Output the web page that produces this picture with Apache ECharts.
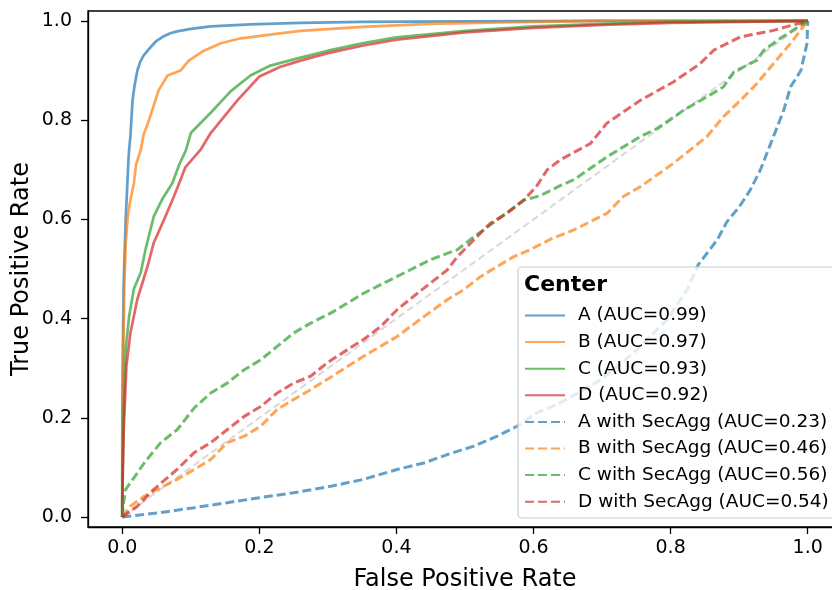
<!DOCTYPE html>
<html>
<head>
<meta charset="utf-8">
<script src="https://cdn.jsdelivr.net/npm/echarts@6/dist/echarts.min.js"></script>
<style>html,body{margin:0;padding:0;background:#fff}#chart{width:832px;height:590px}</style>
</head>
<body>
<div id="chart"></div>
<script>
// Tick values
const xTicks = [0, 0.2, 0.4, 0.6, 0.8, 1.0];
const yTicks = [0, 0.2, 0.4, 0.6, 0.8, 1.0];

// Legend labels
const seriesNames = [
  'A (AUC=0.99)', 'B (AUC=0.97)', 'C (AUC=0.93)', 'D (AUC=0.92)',
  'A with SecAgg (AUC=0.23)', 'B with SecAgg (AUC=0.46)',
  'C with SecAgg (AUC=0.56)', 'D with SecAgg (AUC=0.54)'
];

// ROC curves as [FPR, TPR]
const rocA = [[0,0],[0,0.2],[0.001,0.35],[0.002,0.47],[0.005,0.6],[0.007,0.66],[0.009,0.72],[0.01,0.74],[0.012,0.77],[0.015,0.84],[0.018,0.87],[0.022,0.9],[0.026,0.917],[0.031,0.93],[0.04,0.945],[0.05,0.96],[0.059,0.968],[0.07,0.975],[0.08,0.979],[0.1,0.984],[0.129,0.989],[0.187,0.993],[0.26,0.996],[0.35,0.998],[0.5,0.999],[0.7,1],[1,1]];
const rocB = [[0,0],[0,0.15],[0.001,0.3],[0.003,0.47],[0.005,0.55],[0.008,0.606],[0.012,0.64],[0.017,0.673],[0.02,0.71],[0.027,0.74],[0.031,0.77],[0.039,0.8],[0.046,0.83],[0.053,0.86],[0.066,0.89],[0.085,0.9],[0.097,0.92],[0.119,0.94],[0.144,0.955],[0.173,0.965],[0.23,0.975],[0.26,0.98],[0.35,0.988],[0.45,0.994],[0.55,0.997],[0.7,1],[1,1]];
const rocC = [[0,0],[0,0.04],[0.002,0.2],[0.005,0.338],[0.01,0.405],[0.017,0.46],[0.027,0.493],[0.034,0.54],[0.046,0.606],[0.058,0.64],[0.073,0.673],[0.083,0.71],[0.093,0.74],[0.1,0.774],[0.129,0.815],[0.158,0.858],[0.187,0.89],[0.216,0.91],[0.26,0.926],[0.3,0.94],[0.35,0.955],[0.4,0.967],[0.5,0.98],[0.6,0.989],[0.7,0.994],[0.8,0.998],[1,1]];
const rocD = [[0,0],[0,0.04],[0.002,0.17],[0.006,0.305],[0.012,0.372],[0.022,0.439],[0.037,0.506],[0.046,0.553],[0.063,0.606],[0.075,0.645],[0.083,0.673],[0.092,0.705],[0.114,0.74],[0.129,0.774],[0.148,0.806],[0.168,0.84],[0.2,0.888],[0.23,0.907],[0.26,0.92],[0.3,0.935],[0.35,0.95],[0.4,0.962],[0.5,0.977],[0.6,0.986],[0.7,0.992],[0.8,0.996],[1,1]];
const rocASec = [[0,0],[0.056,0.009],[0.105,0.019],[0.153,0.029],[0.2,0.039],[0.25,0.049],[0.304,0.062],[0.352,0.076],[0.401,0.096],[0.44,0.109],[0.474,0.126],[0.513,0.143],[0.547,0.163],[0.576,0.183],[0.605,0.21],[0.634,0.227],[0.665,0.25],[0.698,0.277],[0.746,0.331],[0.795,0.398],[0.824,0.458],[0.84,0.508],[0.868,0.559],[0.882,0.595],[0.9,0.625],[0.916,0.659],[0.931,0.7],[0.95,0.767],[0.965,0.82],[0.975,0.867],[0.99,0.9],[0.999,0.955],[1,1]];
const rocBSec = [[0,0],[0.012,0.022],[0.032,0.042],[0.046,0.052],[0.08,0.076],[0.105,0.096],[0.129,0.116],[0.153,0.15],[0.178,0.163],[0.202,0.183],[0.226,0.217],[0.25,0.237],[0.275,0.257],[0.304,0.282],[0.352,0.324],[0.401,0.364],[0.44,0.404],[0.474,0.438],[0.498,0.458],[0.523,0.485],[0.547,0.505],[0.571,0.525],[0.595,0.539],[0.625,0.56],[0.659,0.579],[0.707,0.612],[0.731,0.646],[0.756,0.666],[0.804,0.713],[0.853,0.767],[0.877,0.807],[0.902,0.84],[0.926,0.874],[0.95,0.914],[0.975,0.955],[1,1]];
const rocCSec = [[0,0],[0.002,0.03],[0.005,0.056],[0.017,0.079],[0.032,0.109],[0.056,0.15],[0.08,0.176],[0.105,0.22],[0.129,0.25],[0.153,0.27],[0.178,0.297],[0.202,0.317],[0.226,0.344],[0.25,0.371],[0.275,0.391],[0.304,0.411],[0.352,0.451],[0.401,0.485],[0.45,0.519],[0.489,0.539],[0.513,0.565],[0.547,0.599],[0.586,0.639],[0.61,0.648],[0.639,0.668],[0.659,0.68],[0.707,0.726],[0.756,0.767],[0.78,0.783],[0.819,0.82],[0.853,0.847],[0.877,0.867],[0.892,0.897],[0.926,0.921],[0.936,0.941],[0.96,0.965],[1,1]];
const rocDSec = [[0,0],[0.022,0.022],[0.046,0.056],[0.08,0.096],[0.105,0.13],[0.129,0.15],[0.153,0.176],[0.178,0.203],[0.202,0.223],[0.226,0.25],[0.25,0.27],[0.275,0.284],[0.299,0.311],[0.328,0.337],[0.352,0.358],[0.377,0.384],[0.401,0.418],[0.425,0.445],[0.45,0.472],[0.474,0.498],[0.489,0.525],[0.513,0.559],[0.537,0.592],[0.561,0.612],[0.586,0.639],[0.605,0.668],[0.62,0.70],[0.639,0.72],[0.659,0.735],[0.683,0.753],[0.707,0.794],[0.756,0.84],[0.804,0.877],[0.843,0.914],[0.863,0.941],[0.902,0.968],[0.95,0.981],[1,1]];
const chanceLine = [[0,0],[1,1]];

const curves = [rocA, rocB, rocC, rocD, rocASec, rocBSec, rocCSec, rocDSec];
const colors = ['rgba(31,119,180,0.7)','rgba(255,127,14,0.7)','rgba(44,160,44,0.7)','rgba(214,39,40,0.7)'];
const FONT = '"DejaVu Sans", sans-serif';

const series = [{
  type: 'line', data: chanceLine, symbol: 'none', silent: true, z: 1,
  lineStyle: { color: '#d9d9d9', width: 2, type: [7, 4] }
}];
curves.forEach((d, i) => {
  series.push({
    name: seriesNames[i], type: 'line', data: d, symbol: 'none', z: 2,
    lineStyle: { color: colors[i % 4], width: i < 4 ? 2.7 : 3, type: i < 4 ? 'solid' : [9, 4], cap: 'butt' },
    itemStyle: { color: colors[i % 4] }
  });
});

const chart = echarts.init(document.getElementById('chart'), null, { renderer: 'canvas' });
chart.setOption({
  animation: false,
  backgroundColor: '#fff',
  grid: { left: 88, top: 11, right: -10, bottom: 63, outerBoundsMode: 'none', containLabel: false,
          show: true, borderColor: '#000', borderWidth: 1.3, backgroundColor: 'transparent' },
  xAxis: {
    type: 'value', min: -0.05, max: 1.05,
    name: 'False Positive Rate', nameLocation: 'middle', nameGap: 41,
    nameTextStyle: { fontSize: 24, color: '#000', fontFamily: FONT },
    axisLine: { show: true, onZero: false, lineStyle: { color: '#000', width: 1.3 } },
    axisTick: { show: true, length: 7, customValues: xTicks, lineStyle: { color: '#000', width: 1.3 } },
    axisLabel: { customValues: xTicks, fontSize: 19, color: '#000', fontFamily: FONT, margin: 12, formatter: v => v.toFixed(1) },
    splitLine: { show: false }
  },
  yAxis: {
    type: 'value', min: -0.02, max: 1.02,
    name: 'True Positive Rate', nameLocation: 'middle', nameGap: 54, nameMoveOverlap: false,
    nameTextStyle: { fontSize: 24, color: '#000', fontFamily: FONT },
    axisLine: { show: true, onZero: false, lineStyle: { color: '#000', width: 1.3 } },
    axisTick: { show: true, length: 7, customValues: yTicks, lineStyle: { color: '#000', width: 1.3 } },
    axisLabel: { customValues: yTicks, fontSize: 19, color: '#000', fontFamily: FONT, margin: 16, formatter: v => v.toFixed(1) },
    splitLine: { show: false }
  },
  legend: {
    orient: 'vertical', left: 524, top: 306, padding: 0, z: 60,
    itemWidth: 40, itemHeight: 14, itemGap: 7.6,
    data: seriesNames,
    itemStyle: { opacity: 0 },
    textStyle: { fontSize: 18.5, color: '#000', fontFamily: FONT, padding: [0, 0, 0, 8] }
  },
  graphic: [
    { type: 'rect', z: 50, shape: { x: 518, y: 267, width: 330, height: 251, r: 4 },
      style: { fill: 'rgba(255,255,255,0.8)', stroke: '#cccccc', lineWidth: 1.2 } },
    { type: 'text', z: 55, x: 524, y: 285,
      style: { text: 'Center', font: 'bold 22px "DejaVu Sans", sans-serif', fill: '#000', textVerticalAlign: 'middle', verticalAlign: 'middle' } }
  ],
  series: series
});
</script>
</body>
</html>
